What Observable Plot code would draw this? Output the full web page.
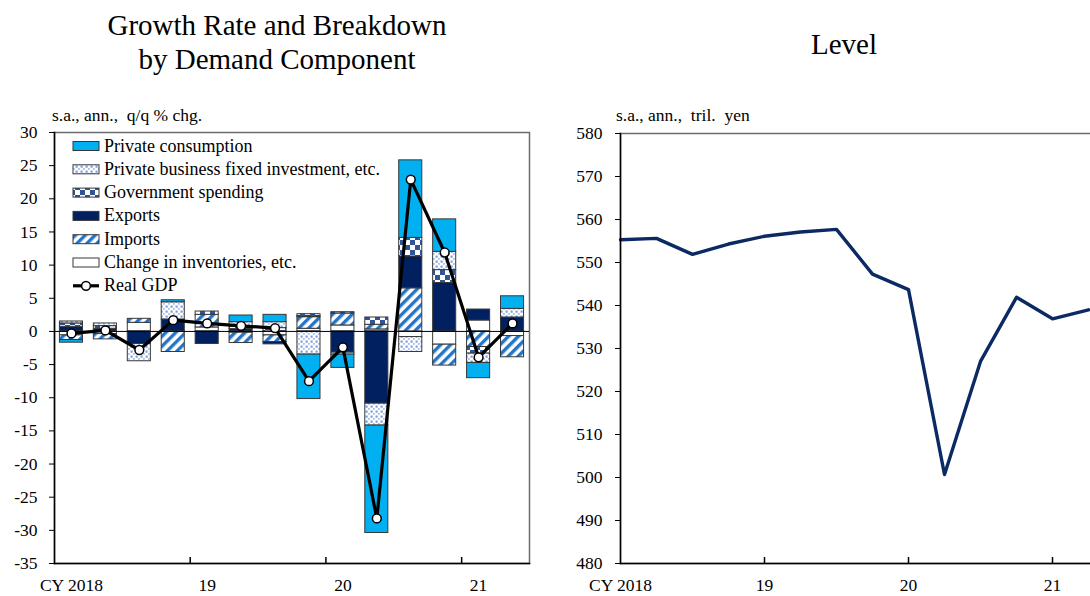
<!DOCTYPE html>
<html>
<head>
<meta charset="utf-8">
<script src="https://cdn.jsdelivr.net/npm/d3@7"></script>
<script src="https://cdn.jsdelivr.net/npm/@observablehq/plot@0.6"></script>
<style>
  html, body { margin: 0; padding: 0; background: #fff; overflow: hidden; width: 1090px; height: 596px; }
  #root { position: relative; width: 1090px; height: 596px; overflow: hidden;
          font-family: "Liberation Serif", "Times New Roman", serif; color: #000; }
  .title { position: absolute; font-size: 29px; line-height: 34px; text-align: center; white-space: nowrap; }
  .sub { position: absolute; font-size: 17.5px; line-height: 17.5px; white-space: pre; }
  #root svg { position: absolute; }
  #root svg text { font-family: "Liberation Serif", "Times New Roman", serif; }
</style>
</head>
<body>
<svg width="0" height="0" style="position:absolute">
  <defs>
    <pattern id="pat-dots" patternUnits="userSpaceOnUse" width="5" height="5">
      <rect width="5" height="5" fill="#ffffff"/>
      <rect x="0.5" y="0.5" width="2.2" height="2.2" fill="#7f9fdc"/>
      <rect x="3" y="3" width="1.8" height="1.8" fill="#a9bfe8"/>
    </pattern>
    <pattern id="pat-check" patternUnits="userSpaceOnUse" width="10" height="10">
      <rect width="10" height="10" fill="#ffffff"/>
      <rect x="0" y="0" width="5" height="5" fill="#2f5597"/>
      <rect x="5" y="5" width="5" height="5" fill="#2f5597"/>
    </pattern>
    <pattern id="pat-stripes" patternUnits="userSpaceOnUse" width="7" height="7" patternTransform="rotate(45)">
      <rect width="7" height="7" fill="#ffffff"/>
      <rect x="0" y="0" width="3.4" height="7" fill="#2474c8"/>
    </pattern>
  </defs>
</svg>
<div id="root">
  <div class="title" style="left:77px; width:400px; top:8px;">Growth Rate and Breakdown<br>by Demand Component</div>
  <div class="title" style="left:744px; width:200px; top:27px;">Level</div>
  <div class="sub" style="left:52px; top:107px;">s.a., ann.,  q/q % chg.</div>
  <div class="sub" style="left:616px; top:107px;">s.a., ann.,  tril.  yen</div>
</div>
<script>
// ---------------- data ----------------
const quarters = ["2018Q1","2018Q2","2018Q3","2018Q4","2019Q1","2019Q2","2019Q3","2019Q4",
                  "2020Q1","2020Q2","2020Q3","2020Q4","2021Q1","2021Q2"];
const yearStartQuarters = ["2018Q1","2019Q1","2020Q1","2021Q1"];
const yearTickLabels = ["CY 2018","19","20","21"];

const seriesNames = ["Private consumption","Private business fixed investment, etc.","Government spending",
                     "Exports","Imports","Change in inventories, etc."];
// contributions, s.a., ann., q/q % chg.
const consumption        = [-0.4, 0.0, 0.0, 0.3, 0.0, 1.0, 1.1, -6.7, -2.0, -16.2, 11.7, 4.9, -2.3, 1.9];
const businessInvestment = [ 0.3, 0.4, -2.6, 2.6, 0.0, 0.7, 0.9, -3.5, -0.3, -3.3, -2.25, 2.75, -1.4, 1.3];
const government         = [ 0.5, 0.4, 0.0, 0.0, 0.5, 0.35, 0.5, 0.3, 0.2, 1.1, 2.8, 1.95, -1.0, 0.0];
const exportsContrib     = [ 0.7, 0.4, -1.9, 1.8, -1.9, 0.35, -0.35, 0.15, -3.2, -10.9, 4.8, 7.3, 1.65, 2.1];
const importsContrib     = [-0.7, -0.8, 0.6, -3.1, 1.9, -1.55, -1.0, 1.75, 1.8, 0.7, 6.5, -3.15, -2.35, -3.2];
const inventoriesContrib = [-0.6, -0.4, 1.3, 0.0, 0.6, -0.2, -0.6, 0.4, 0.9, 0.3, -0.85, -2.0, 1.65, -0.7];
const realGDPGrowth      = [-0.3, 0.15, -2.8, 1.7, 1.2, 0.85, 0.5, -7.5, -2.4, -28.2, 22.9, 11.9, -3.9, 1.2];
// level, s.a., ann., tril. yen
const realGDPLevel       = [555.3, 555.6, 551.9, 554.3, 556.1, 557.1, 557.7, 547.3, 543.7, 500.7, 527.0, 541.9, 536.9, 539.0];

const leftYTicks = d3.range(-35, 31, 5);
const rightYTicks = d3.range(480, 581, 10);

// ---------------- styles ----------------
const fills = {
  "Private consumption": "#00b0f0",
  "Private business fixed investment, etc.": "url(#pat-dots)",
  "Government spending": "url(#pat-check)",
  "Exports": "#002060",
  "Imports": "url(#pat-stripes)",
  "Change in inventories, etc.": "#ffffff"
};
const FONT = '"Liberation Serif", "Times New Roman", serif';
const seriesValues = [consumption, businessInvestment, government, exportsContrib, importsContrib, inventoriesContrib];

// stack order from zero outward: inventories, imports, exports, government, investment, consumption
const components = [];
for (let s = seriesNames.length - 1; s >= 0; --s) {
  quarters.forEach((q, i) => {
    const v = seriesValues[s][i];
    if (v !== 0) components.push({quarter: q, series: seriesNames[s], value: v});
  });
}
const gdpRows = quarters.map((q, i) => ({quarter: q, value: realGDPGrowth[i]}));
const levelRows = quarters.map((q, i) => ({quarter: q, value: realGDPLevel[i]}));
const labelOf = new Map(yearStartQuarters.map((q, i) => [q, yearTickLabels[i]]));

const root = document.getElementById("root");
const axisText = {fontSize: 17.5, fontFamily: FONT, fontWeight: "normal", label: null};

// ---------------- left chart ----------------
const LW = 545, LH = 496, LML = 54, LMR = 16, MT = 32, MB = 33;
const step = (LW - LML - LMR) / quarters.length;
const innerH = LH - MT - MB;
const TICK = 6;
const left = Plot.plot({
  width: LW, height: LH,
  marginLeft: LML, marginRight: LMR, marginTop: MT, marginBottom: MB,
  style: {fontFamily: FONT, fontSize: "17.5px", background: "transparent", overflow: "visible", color: "#000"},
  x: {type: "band", domain: quarters, paddingInner: 0.32, paddingOuter: 0.16, round: false, axis: null},
  y: {domain: [-35, 30], axis: null},
  color: {type: "identity"},
  marks: [
    Plot.frame({stroke: "#6b6b6b", strokeWidth: 1.5}),
    Plot.barY(components, {x: "quarter", y: "value", z: "series", fill: d => fills[d.series],
                           stroke: "#383838", strokeWidth: 1}),
    Plot.ruleY([0], {stroke: "#000", strokeWidth: 1}),
    Plot.line(gdpRows, {x: "quarter", y: "value", stroke: "#000", strokeWidth: 3.2}),
    Plot.dot(gdpRows, {x: "quarter", y: "value", r: 4.4, fill: "#fff", stroke: "#000", strokeWidth: 1.5}),
    Plot.frame({anchor: "left", stroke: "#000", strokeWidth: 1.5}),
    Plot.frame({anchor: "bottom", stroke: "#000", strokeWidth: 1.5}),
    // year-boundary ticks pointing up from the bottom axis
    Plot.ruleX(yearStartQuarters.slice(1), {x: d => d, dx: -step / 2, insetTop: innerH - TICK, stroke: "#000", strokeWidth: 1.5}),
    Plot.axisY(leftYTicks, {anchor: "left", tickSize: 5, tickPadding: 12, tickFormat: d => `${d}`, ...axisText}),
    Plot.axisX(yearStartQuarters, {anchor: "bottom", tickSize: 0, tickPadding: 15, tickFormat: d => labelOf.get(d), ...axisText})
  ]
});
left.style.left = "0px";
left.style.top = "100px";
root.appendChild(left);

// legend (inside left plot area)
const legendRows = [...seriesNames, "Real GDP"];
const lg = d3.create("svg").attr("width", 400).attr("height", 200)
  .style("left", "0px").style("top", "130px").style("font-family", FONT).style("font-size", "18px");
legendRows.forEach((name, k) => {
  const cy = 16 + k * 23.3;
  if (name === "Real GDP") {
    lg.append("line").attr("x1", 73).attr("x2", 99).attr("y1", cy).attr("y2", cy).attr("stroke", "#000").attr("stroke-width", 3.2);
    lg.append("circle").attr("cx", 86).attr("cy", cy).attr("r", 4.4).attr("fill", "#fff").attr("stroke", "#000").attr("stroke-width", 1.5);
  } else {
    lg.append("rect").attr("x", 73).attr("y", cy - 4.5).attr("width", 26).attr("height", 9)
      .attr("fill", fills[name]).attr("stroke", "#383838").attr("stroke-width", 1);
  }
  lg.append("text").attr("x", 104).attr("y", cy + 5.5).text(name);
});
root.appendChild(lg.node());

// ---------------- right chart ----------------
const RMT = 33, RMB = 33, RH = 496;
const right = Plot.plot({
  width: 600, height: RH,
  marginLeft: 60, marginRight: 10, marginTop: RMT, marginBottom: RMB,
  style: {fontFamily: FONT, fontSize: "17.5px", background: "transparent", overflow: "visible", color: "#000"},
  x: {type: "point", domain: quarters, range: [60, 528], padding: 0, round: false, axis: null},
  y: {domain: [480, 580], axis: null},
  marks: [
    Plot.frame({stroke: "#6b6b6b", strokeWidth: 1.5}),
    Plot.line(levelRows, {x: "quarter", y: "value", stroke: "#0b2a63", strokeWidth: 3.4}),
    Plot.frame({anchor: "left", stroke: "#000", strokeWidth: 1.5}),
    Plot.frame({anchor: "bottom", stroke: "#000", strokeWidth: 1.5}),
    Plot.ruleX(yearStartQuarters.slice(1), {x: d => d, insetTop: RH - RMT - RMB - TICK, stroke: "#000", strokeWidth: 1.5}),
    Plot.axisY(rightYTicks, {anchor: "left", tickSize: 5, tickPadding: 13, ...axisText}),
    Plot.axisX(yearStartQuarters, {anchor: "bottom", tickSize: 0, tickPadding: 15, tickFormat: d => labelOf.get(d), ...axisText})
  ]
});
right.style.left = "560px";
right.style.top = "100px";
root.appendChild(right);
</script>
</body>
</html>
